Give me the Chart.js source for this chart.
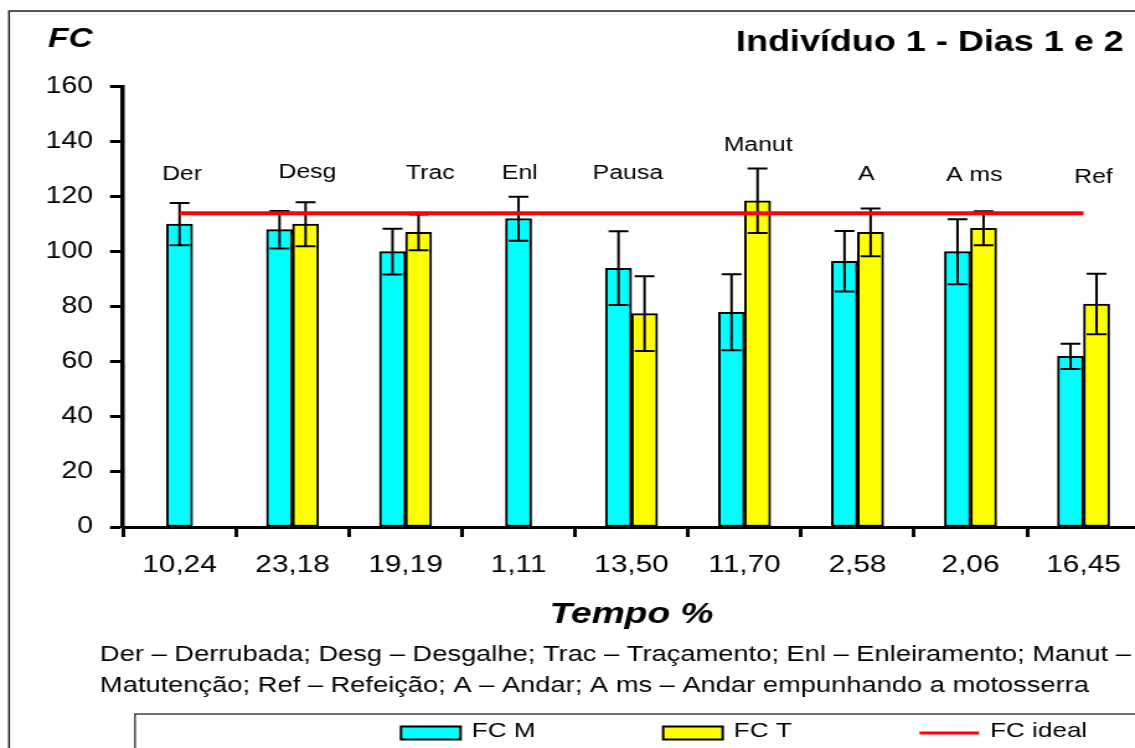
<!DOCTYPE html>
<html lang="pt">
<head>
<meta charset="UTF-8">
<title>Indivíduo 1 - Dias 1 e 2</title>
<script src="https://cdn.jsdelivr.net/npm/chart.js"></script>
<style>
  html, body { margin: 0; padding: 0; background: #fff; overflow: hidden; }
</style>
</head>
<body>
<!-- a figura original está esticada na horizontal: desenha-se em 936 px e o CSS estica -->
<canvas id="fc" width="936" height="748" style="display:block;width:1161px;height:748px"></canvas>
<script>
// atividades e % do tempo em cada uma
const atividades = ['Der', 'Desg', 'Trac', 'Enl', 'Pausa', 'Manut', 'A', 'A ms', 'Ref'];
const tempoPct = ['10,24', '23,18', '19,19', '1,11', '13,50', '11,70', '2,58', '2,06', '16,45'];

// frequência cardíaca média (manhã / tarde) e desvio padrão
const fcM = [110, 108, 100, 112, 94, 78, 96.5, 100, 62];
const fcMdp = [7.7, 6.8, 8.3, 8, 13.4, 13.8, 11, 11.8, 4.6];
const fcT = [null, 110, 107, null, 77.5, 118.5, 107, 108.5, 81];
const fcTdp = [null, 8, 6.5, null, 13.6, 11.7, 8.7, 6.2, 11];
const fcIdeal = [114, 114, 114, 114, 114, 114, 114, 114, 114];

const notas = [
  'Der – Derrubada; Desg – Desgalhe; Trac – Traçamento; Enl – Enleiramento; Manut –',
  'Matutenção; Ref – Refeição; A – Andar; A ms – Andar empunhando a motosserra'
];

const FONTE = '"Liberation Sans", Arial, sans-serif';
Chart.defaults.font.family = FONTE;
Chart.defaults.color = '#000';

// barras de erro (média ± desvio) por cima de cada barra
const barrasErro = {
  id: 'barrasErro',
  afterDatasetDraw(chart, args) {
    const ds = chart.data.datasets[args.index];
    if (!ds.desvio) return;
    const y = chart.scales.y;
    const ctx = chart.ctx;
    ctx.save();
    ctx.strokeStyle = '#000';
    ctx.lineWidth = 2;
    args.meta.data.forEach((bar, i) => {
      const v = ds.data[i], d = ds.desvio[i];
      if (v == null || d == null) return;
      const topo = y.getPixelForValue(v + d);
      const base = y.getPixelForValue(v - d);
      ctx.beginPath();
      ctx.moveTo(bar.x, topo); ctx.lineTo(bar.x, base);
      ctx.moveTo(bar.x - 8, topo); ctx.lineTo(bar.x + 8, topo);
      ctx.moveTo(bar.x - 8, base); ctx.lineTo(bar.x + 8, base);
      ctx.stroke();
    });
    ctx.restore();
  }
};

// textos soltos, moldura e legenda
const textos = {
  id: 'textos',
  afterDraw(chart, args, opts) {
    const ctx = chart.ctx;
    const {x, y} = chart.scales;
    ctx.save();

    // moldura externa
    ctx.strokeStyle = '#222';
    ctx.lineWidth = 1.5;
    ctx.strokeRect(7.3, 11, 1000, 800);

    ctx.fillStyle = '#000';
    ctx.textBaseline = 'middle';

    ctx.font = 'italic bold 27px ' + FONTE;
    ctx.textAlign = 'left';
    ctx.fillText('FC', 38.7, 40);

    ctx.font = 'bold 29px ' + FONTE;
    ctx.textAlign = 'right';
    ctx.fillText('Indivíduo 1 - Dias 1 e 2', 906, 43);

    // nomes das atividades acima das barras
    ctx.font = '20px ' + FONTE;
    ctx.textAlign = 'center';
    atividades.forEach((a, i) => {
      ctx.fillText(a, x.getPixelForValue(i) + opts.desvioX[i], y.getPixelForValue(opts.nivel[i]));
    });

    // nota de rodapé
    ctx.font = '22px ' + FONTE;
    ctx.textAlign = 'left';
    ctx.fillText(notas[0], 80.6, 655);
    ctx.fillText(notas[1], 80.6, 686);

    // legenda
    ctx.strokeStyle = '#444';
    ctx.lineWidth = 1.5;
    ctx.strokeRect(108.8, 714, 1000, 100);

    ctx.font = '21px ' + FONTE;
    let lx = 323.3;
    const ly = 733;
    chart.data.datasets.forEach(ds => {
      if (ds.type === 'line') {
        ctx.strokeStyle = ds.borderColor;
        ctx.lineWidth = 3;
        ctx.beginPath();
        ctx.moveTo(lx, ly); ctx.lineTo(lx + 48, ly);
        ctx.stroke();
      } else {
        ctx.fillStyle = ds.backgroundColor;
        ctx.fillRect(lx, ly - 6.5, 48, 13);
        ctx.strokeStyle = '#000';
        ctx.lineWidth = 2;
        ctx.strokeRect(lx, ly - 6.5, 48, 13);
      }
      ctx.fillStyle = '#000';
      ctx.fillText(ds.label, lx + 57, ly - 1.5);
      lx += 57 + ctx.measureText(ds.label).width + 103;
    });

    ctx.restore();
  }
};

new Chart(document.getElementById('fc'), {
  data: {
    labels: tempoPct,
    datasets: [
      {
        type: 'bar', label: 'FC M', data: fcM, desvio: fcMdp,
        backgroundColor: '#00FFFF', borderColor: '#000', borderWidth: 2,
        borderSkipped: false, order: 1
      },
      {
        type: 'bar', label: 'FC T', data: fcT, desvio: fcTdp,
        backgroundColor: '#FFFF00', borderColor: '#000', borderWidth: 2,
        borderSkipped: false, order: 1
      },
      {
        type: 'line', label: 'FC ideal', data: fcIdeal,
        borderColor: '#FF0000', borderWidth: 4, pointRadius: 0, order: 0
      }
    ]
  },
  options: {
    responsive: false,
    animation: false,
    skipNull: true,
    barThickness: 21,
    layout: { padding: { left: 29.2, right: 16.9, top: 86.5, bottom: 115.6 } },
    scales: {
      x: {
        afterFit(s) { s.height = 105.4; },
        grid: { offset: true, drawOnChartArea: false, tickLength: 10, tickWidth: 3, tickColor: '#000' },
        border: { color: '#000', width: 3 },
        ticks: { font: { size: 24 }, padding: 14 },
        title: {
          display: true, text: 'Tempo %',
          font: { size: 30, weight: 'bold', style: 'italic' },
          padding: { top: 4, bottom: 0 }
        }
      },
      y: {
        min: 0, max: 160,
        afterFit(s) { s.width = 70; },
        grid: { drawOnChartArea: false, tickLength: 10.5, tickWidth: 3, tickColor: '#000' },
        border: { color: '#000', width: 3.5 },
        ticks: { stepSize: 20, font: { size: 23 }, padding: 13.7 }
      }
    },
    plugins: {
      legend: { display: false },
      tooltip: { enabled: false },
      textos: {
        nivel: [128, 128.8, 128.4, 128.4, 128.4, 138.7, 128.2, 127.5, 127.1],
        desvioX: [2, 12, 20, 1, -3, 11, 7, 3, 8]
      }
    }
  },
  plugins: [barrasErro, textos]
});
</script>
</body>
</html>
